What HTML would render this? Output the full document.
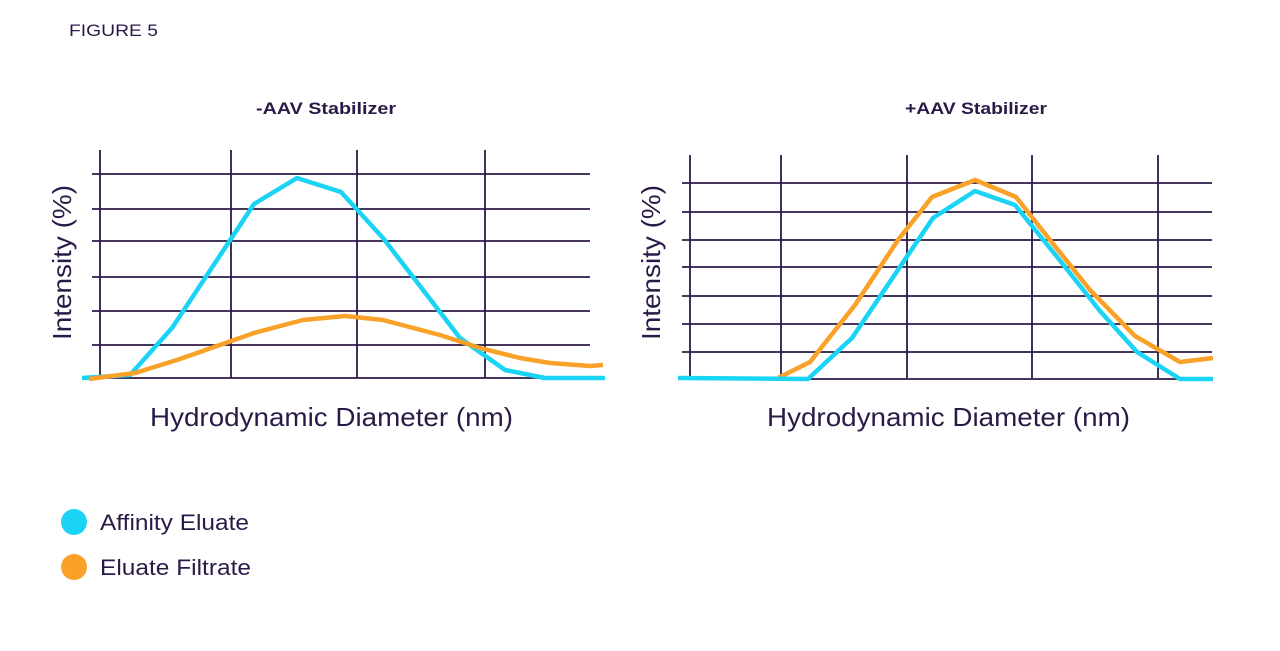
<!DOCTYPE html>
<html><head><style>
body{margin:0;background:#fff;width:1280px;height:646px;overflow:hidden;font-family:"Liberation Sans",sans-serif;}
</style></head><body>
<svg width="1280" height="646" xmlns="http://www.w3.org/2000/svg" font-family="Liberation Sans, sans-serif">
<text x="69" y="36" font-size="17" fill="#2b1a47" textLength="89" lengthAdjust="spacingAndGlyphs">FIGURE 5</text>
<text x="256" y="114" font-size="17" font-weight="bold" fill="#2b1a47" textLength="140" lengthAdjust="spacingAndGlyphs">-AAV Stabilizer</text>
<text x="905" y="114" font-size="17" font-weight="bold" fill="#2b1a47" textLength="142" lengthAdjust="spacingAndGlyphs">+AAV Stabilizer</text>
<g stroke="#2b1a47" stroke-width="1.8">
<line x1="100" y1="150" x2="100" y2="378"/><line x1="231" y1="150" x2="231" y2="378"/><line x1="357" y1="150" x2="357" y2="378"/><line x1="485" y1="150" x2="485" y2="378"/>
<line x1="92" y1="174" x2="590" y2="174"/><line x1="92" y1="209" x2="590" y2="209"/><line x1="92" y1="241" x2="590" y2="241"/><line x1="92" y1="277" x2="590" y2="277"/><line x1="92" y1="311" x2="590" y2="311"/><line x1="92" y1="345" x2="590" y2="345"/><line x1="92" y1="378" x2="590" y2="378"/>
<line x1="690" y1="155" x2="690" y2="378"/><line x1="781" y1="155" x2="781" y2="378"/><line x1="907" y1="155" x2="907" y2="378"/><line x1="1032" y1="155" x2="1032" y2="378"/><line x1="1158" y1="155" x2="1158" y2="378"/>
<line x1="682" y1="183" x2="1212" y2="183"/><line x1="682" y1="212" x2="1212" y2="212"/><line x1="682" y1="240" x2="1212" y2="240"/><line x1="682" y1="267" x2="1212" y2="267"/><line x1="682" y1="296" x2="1212" y2="296"/><line x1="682" y1="324" x2="1212" y2="324"/><line x1="682" y1="352" x2="1212" y2="352"/><line x1="682" y1="379" x2="1212" y2="379"/>
</g>
<g fill="none" stroke-width="4.5" stroke-linejoin="round">
<polyline stroke="#1ad3f5" points="82,378 130,375 172,328 254,204 297,178 341,192 383,238 460,338 505,370 545,378 605,378"/>
<polyline stroke="#f9a128" points="89,379 135,373 180,359 254,333 303,320 345,316 383,320 440,335 480,348 520,358 550,363 590,366 603,365"/>
<polyline stroke="#f9a128" points="778,378 810,362 855,305 898,240 932,197 975,180 1016,197 1050,240 1090,290 1135,336 1180,362 1213,358"/>
<polyline stroke="#1ad3f5" points="678,378 808,379 852,338 933,218 975,191 1015,205 1058,258 1100,311 1137,352 1180,379 1213,379"/>
</g>
<text transform="translate(71,340) rotate(-90)" font-size="26" fill="#2b1a47" textLength="155" lengthAdjust="spacingAndGlyphs">Intensity (%)</text>
<text transform="translate(660,340) rotate(-90)" font-size="26" fill="#2b1a47" textLength="155" lengthAdjust="spacingAndGlyphs">Intensity (%)</text>
<text x="150" y="426" font-size="26" fill="#2b1a47" textLength="363" lengthAdjust="spacingAndGlyphs">Hydrodynamic Diameter (nm)</text>
<text x="767" y="426" font-size="26" fill="#2b1a47" textLength="363" lengthAdjust="spacingAndGlyphs">Hydrodynamic Diameter (nm)</text>
<circle cx="74" cy="522" r="13" fill="#1ad3f5"/>
<circle cx="74" cy="567" r="13" fill="#f9a128"/>
<text x="100" y="530" font-size="22" fill="#2b1a47" textLength="149" lengthAdjust="spacingAndGlyphs">Affinity Eluate</text>
<text x="100" y="575" font-size="22" fill="#2b1a47" textLength="151" lengthAdjust="spacingAndGlyphs">Eluate Filtrate</text>
</svg>
</body></html>
